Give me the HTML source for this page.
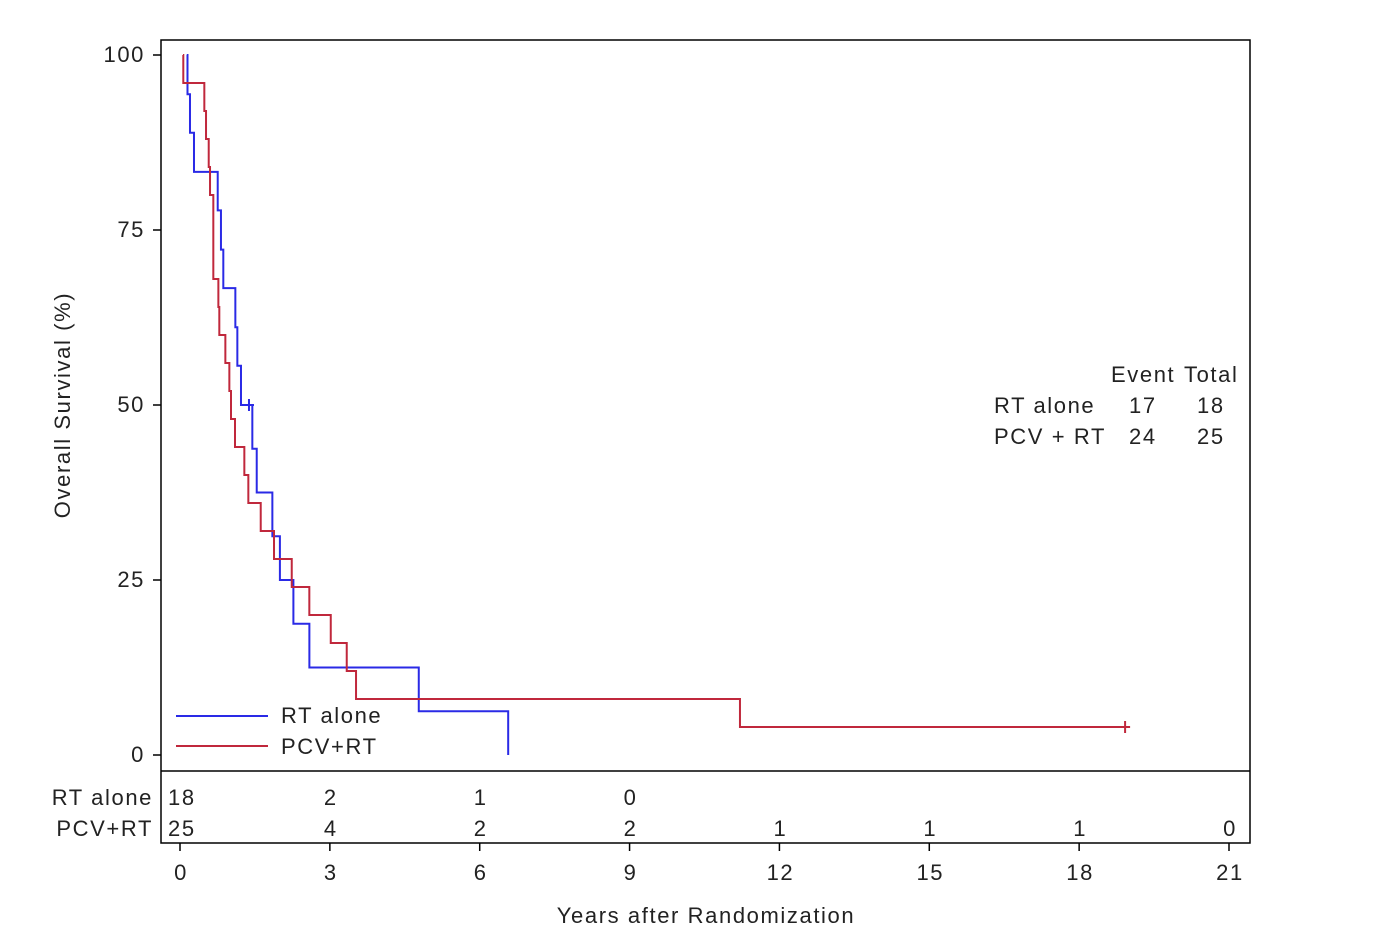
<!DOCTYPE html>
<html><head><meta charset="utf-8"><style>
body{margin:0;background:#fff;}
text{font-family:"Liberation Sans",sans-serif;font-size:22px;letter-spacing:1.6px;fill:#222;}
</style></head><body>
<svg id="c" width="1386" height="946">
<rect x="161" y="40" width="1089" height="803" fill="none" stroke="#000" stroke-width="1.5"/>
<line x1="161" y1="771" x2="1250" y2="771" stroke="#000" stroke-width="1.5"/>
<g id="g"></g>
<text x="0" y="0" transform="translate(70,405) rotate(-90)" text-anchor="middle">Overall Survival (%)</text>
<text x="706" y="923" text-anchor="middle">Years after Randomization</text>
<g>
<line x1="176" y1="716" x2="268" y2="716" stroke="#2a2ae6" stroke-width="2"/>
<text x="281" y="723">RT alone</text>
<line x1="176" y1="746" x2="268" y2="746" stroke="#c0283c" stroke-width="2"/>
<text x="281" y="754">PCV+RT</text>
</g>
<g>
<text x="1111" y="382">Event</text>
<text x="1184" y="382">Total</text>
<text x="994" y="413">RT alone</text>
<text x="1129" y="413">17</text>
<text x="1197" y="413">18</text>
<text x="994" y="444">PCV + RT</text>
<text x="1129" y="444">24</text>
<text x="1197" y="444">25</text>
</g>
<text x="153" y="805" text-anchor="end">RT alone</text>
<text x="153" y="836" text-anchor="end">PCV+RT</text>
</svg>
<script>
const xTicks=[0,3,6,9,12,15,18,21];
const yTicks=[0,25,50,75,100];
const rtTimes=[0.15,0.2,0.28,0.755,0.82,0.867,1.108,1.148,1.221,1.448,1.536,1.849,2.0,2.27,2.59,4.78,6.57];
const rtSurv=[94.4,88.9,83.3,77.8,72.2,66.7,61.1,55.6,50,43.75,37.5,31.25,25,18.75,12.5,6.25,0];
const rtCensor=[1.381];
const rtCensorSurv=[50];
const pcvTimes=[0.066,0.487,0.521,0.575,0.601,0.667,0.768,0.787,0.908,0.988,1.021,1.101,1.288,1.368,1.616,1.882,2.237,2.589,3.018,3.338,3.524,11.21];
const pcvSurv=[96,92,88,84,80,68,64,60,56,52,48,44,40,36,32,28,24,20,16,12,8,4];
const pcvCensor=[18.92];
const pcvCensorSurv=[4];
const riskTimes=[0,3,6,9,12,15,18,21];
const riskRT=[18,2,1,0];
const riskPCV=[25,4,2,2,1,1,1,0];
const X=t=>180+t*(1229-180)/21;
const Y=s=>755-s*7;
const ns="http://www.w3.org/2000/svg";
const g=document.getElementById('g');
function mk(tag,attrs){const e=document.createElementNS(ns,tag);for(const k in attrs)e.setAttribute(k,attrs[k]);g.appendChild(e);return e;}
xTicks.forEach(t=>{
 const l=mk('line',{x1:X(t),x2:X(t),y1:843,y2:851,stroke:'#000','stroke-width':1.5});
 
 
 const tx=mk('text',{x:X(t)+1,y:880,'text-anchor':'middle'});tx.textContent=t;
 
 
});
yTicks.forEach(s=>{
 const l=mk('line',{x1:153,x2:161,y1:Y(s),y2:Y(s),stroke:'#000','stroke-width':1.5});
 
 
 const tx=mk('text',{x:145,y:Y(s)+7,'text-anchor':'end'});tx.textContent=s;
 
 
});
function curve(times,surv,start){
 let d='M'+X(start)+','+Y(100);
 times.forEach((t,i)=>{d+=' H'+X(t)+' V'+Y(surv[i]);});
 return d;
}
function draw(times,surv,cT,cS,color,name,endT){
 let d=curve(times,surv,times[0]*0.9);
 if(endT!==undefined)d+=' H'+X(endT);
 const p=mk('path',{d:d,fill:'none',stroke:color,'stroke-width':2});
 
 
 cT.forEach((t,i)=>{
  const c=mk('path',{d:'M'+(X(t)-5)+','+Y(cS[i])+' H'+(X(t)+5)+' M'+X(t)+','+(Y(cS[i])-6)+' V'+(Y(cS[i])+6),stroke:color,'stroke-width':2,fill:'none'});
  
  
 });
}
draw(rtTimes,rtSurv,rtCensor,rtCensorSurv,'#2a2ae6','rt-alone-curve');
draw(pcvTimes,pcvSurv,pcvCensor,pcvCensorSurv,'#c0283c','pcv-rt-curve',pcvCensor[0]);
riskRT.forEach((n,i)=>{
 const tx=mk('text',{x:i==0?168:X(riskTimes[i])+1,y:805,'text-anchor':i==0?'start':'middle'});tx.textContent=n;
 
 
});
riskPCV.forEach((n,i)=>{
 const tx=mk('text',{x:i==0?168:X(riskTimes[i])+1,y:836,'text-anchor':i==0?'start':'middle'});tx.textContent=n;
 
 
});
</script>
</body></html>
